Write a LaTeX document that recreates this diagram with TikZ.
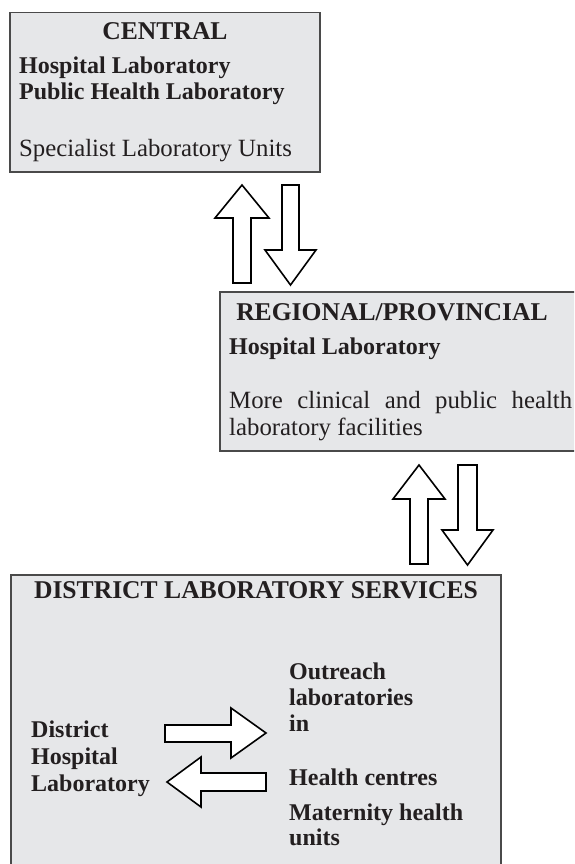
\documentclass[tikz,border=0pt]{standalone}
\usepackage{fontspec}
\setmainfont{Liberation Serif}
\definecolor{boxfill}{HTML}{E6E7E9}
\definecolor{boxline}{HTML}{4A4A4A}
\definecolor{ink}{HTML}{231F20}
\begin{document}
\begin{tikzpicture}[x=1pt,y=-1pt,
  box/.style={draw=boxline, fill=boxfill, line width=1.5pt, inner sep=0pt, anchor=north west},
  barrow/.style={draw=black, fill=white, line width=1.6pt, line join=miter},
  ttl/.style={font=\fontsize{25.6}{27}\selectfont\bfseries, text=ink, anchor=base, inner sep=0pt},
  bld/.style={font=\fontsize{24}{26}\selectfont\bfseries, text=ink, anchor=base west, inner sep=0pt},
  pln/.style={font=\fontsize{24.8}{27}\selectfont, text=ink, anchor=base west, inner sep=0pt}]
\useasboundingbox (0,0) rectangle (574,864);
\clip (0,0) rectangle (574,864);
% boxes
\node[box, minimum width=310pt, minimum height=159pt] (central) at (9,12) {};
\node[box, minimum width=380pt, minimum height=159pt] (regional) at (219,291) {};
\node[box, minimum width=490pt, minimum height=320pt] (district) at (10,574) {};
% central texts
\node[ttl] (c0) at (165,40) {CENTRAL};
\node[bld] (c1) at (19,74) {Hospital Laboratory};
\node[bld] (c2) at (19,100) {Public Health Laboratory};
\node[pln] (c3) at (19,156) {Specialist Laboratory Units};
% regional texts
\node[ttl] (r0) at (392,320) {REGIONAL/PROVINCIAL};
\node[bld] (r1) at (229,354) {Hospital Laboratory};
\node[pln] (r2) at (229,408) {\makebox[343pt][s]{More clinical and public health}};
\node[pln] (r3) at (229,435) {laboratory facilities};
% district texts
\node[ttl] (d0) at (256,598) {DISTRICT LABORATORY SERVICES};
\node[bld] (o1) at (289,679) {Outreach};
\node[bld] (o2) at (289,705) {laboratories};
\node[bld] (o3) at (289,731) {in};
\node[bld] (o4) at (289,785) {Health centres};
\node[bld] (o5) at (289,820) {Maternity health};
\node[bld] (o6) at (289,845) {units};
\node[bld] (h1) at (31,737) {District};
\node[bld] (h2) at (31,764) {Hospital};
\node[bld] (h3) at (31,791) {Laboratory};
% block arrows between central and regional
\draw[barrow] (233,283) -- (233,218) -- (215,218) -- (242,185) -- (269,218) -- (251,218) -- (251,283) -- cycle;
\draw[barrow] (282,185) -- (282,250) -- (265,250) -- (290.5,285) -- (316,250) -- (299,250) -- (299,185) -- cycle;
% block arrows between regional and district
\draw[barrow] (410,564) -- (410,499) -- (393,499) -- (419,465) -- (445,499) -- (428,499) -- (428,564) -- cycle;
\draw[barrow] (458,465) -- (458,530) -- (442,530) -- (467.5,565) -- (493,530) -- (477,530) -- (477,465) -- cycle;
% block arrows inside district
\draw[barrow] (165,725) -- (231,725) -- (231,708) -- (266,733) -- (231,758) -- (231,742) -- (165,742) -- cycle;
\draw[barrow] (266,773) -- (201,773) -- (201,757) -- (167,782) -- (201,807) -- (201,791) -- (266,791) -- cycle;
\end{tikzpicture}
\end{document}
